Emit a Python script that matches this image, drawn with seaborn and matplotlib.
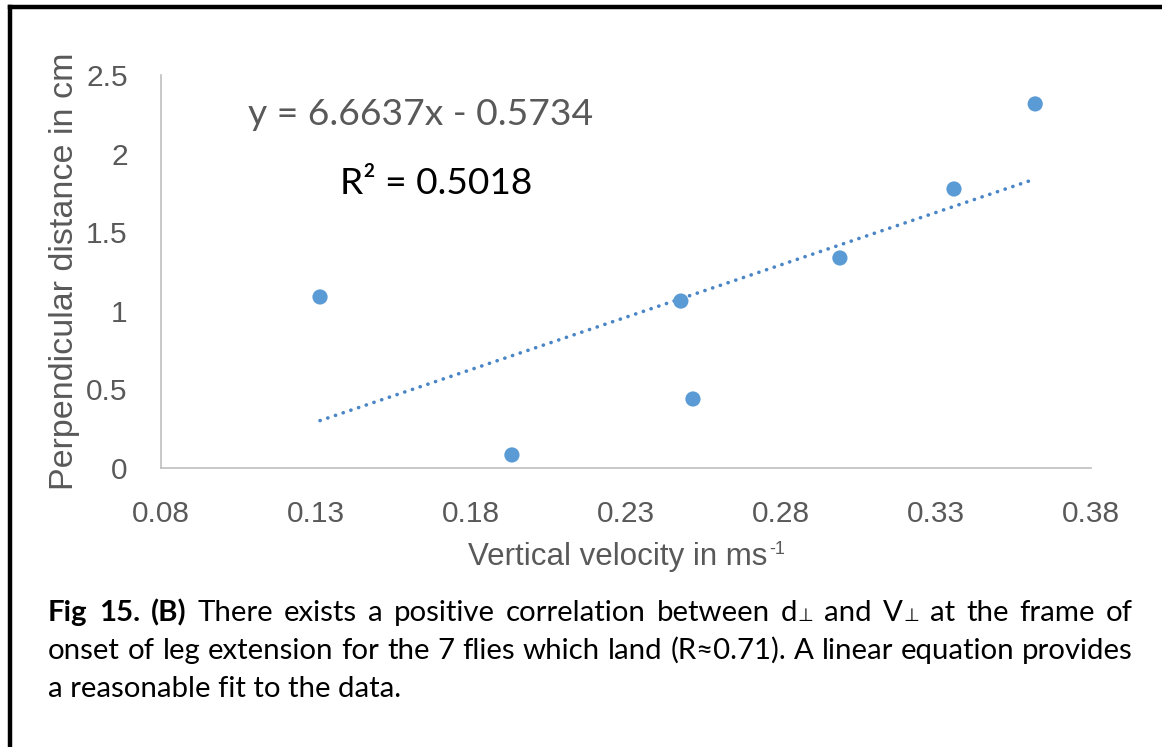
import numpy as np
import pandas as pd
import seaborn as sns
import matplotlib
matplotlib.use("Agg")
import matplotlib.pyplot as plt
from matplotlib.transforms import IdentityTransform
from matplotlib.lines import Line2D

# ---------------- data ----------------
velocity = [0.1313, 0.1932, 0.2477, 0.2516, 0.2990, 0.3358, 0.3620]
distance = [1.088, 0.083, 1.062, 0.439, 1.336, 1.775, 2.316]
slope = 6.6637
intercept = -0.5734
x_ticks = [0.08, 0.13, 0.18, 0.23, 0.28, 0.33, 0.38]
x_tick_labels = ["0.08", "0.13", "0.18", "0.23", "0.28", "0.33", "0.38"]
y_ticks = [0, 0.5, 1, 1.5, 2, 2.5]
y_tick_labels = ["0", "0.5", "1", "1.5", "2", "2.5"]
eq_text = "y = 6.6637x - 0.5734"
r2_text = "R² = 0.5018"
x_label = "Vertical velocity in ms"
x_label_sup = "-1"
y_label = "Perpendicular distance in cm"
caption_line1 = ["**Fig", "**15.", "**(B)", "There", "exists", "a", "positive", "correlation",
                 "between", "d_⊥", "and", "V_⊥", "at", "the", "frame", "of"]
caption_line2 = "onset of leg extension for the 7 flies which land (R≈0.71). A linear equation provides"
caption_line3 = "a reasonable fit to the data."

# ---------------- style ----------------
sns.set_theme(style="white")
plt.rcParams["font.family"] = ["Liberation Sans", "DejaVu Sans"]

W, H = 1162, 747
fig = plt.figure(figsize=(W / 100, H / 100), dpi=100)
fig.patch.set_facecolor("white")

ax_left, ax_right, ax_top, ax_bottom = 161, 1091, 75, 468
ax = fig.add_axes([ax_left / W, 1 - ax_bottom / H, (ax_right - ax_left) / W, (ax_bottom - ax_top) / H])

blue = "#5B9BD5"
grey_txt = "#595959"
axis_col = "#BFBFBF"

df = pd.DataFrame({"v": velocity, "d": distance})
sns.scatterplot(data=df, x="v", y="d", ax=ax, s=120, color=blue, edgecolor="none", zorder=3)

# trendline over the data range
xs = np.array([min(velocity), max(velocity)])
ax.plot(xs, slope * xs + intercept, color="#4A86C5", lw=2.6,
        linestyle=(0, (0.05, 2.2)), dash_capstyle="round", zorder=2)

ax.set_xlim(0.08, 0.38)
ax.set_ylim(0, 2.5)
ax.set_xticks(x_ticks)
ax.set_xticklabels(x_tick_labels)
ax.set_yticks(y_ticks)
ax.set_yticklabels(y_tick_labels)
ax.tick_params(axis="both", length=0, labelsize=21.5, labelcolor=grey_txt)
ax.tick_params(axis="x", pad=23)
ax.tick_params(axis="y", pad=24)
for side in ["top", "right"]:
    ax.spines[side].set_visible(False)
for side in ["left", "bottom"]:
    ax.spines[side].set_color(axis_col)
    ax.spines[side].set_linewidth(1.2)
ax.grid(False)
ax.set_facecolor("white")
ax.set_xlabel(x_label, fontsize=22.5, color=grey_txt, labelpad=10)
ax.set_ylabel(y_label, fontsize=24.5, color=grey_txt, labelpad=4)

fig.canvas.draw()
renderer = fig.canvas.get_renderer()
ident = IdentityTransform()

# superscript for the x label, keep the whole label centred on the axis
sup = fig.text(0, 0, x_label_sup, transform=ident, fontsize=13, color=grey_txt,
               ha="left", va="top")
sup_w = sup.get_window_extent(renderer).width
ax.xaxis.label.set_x(0.5 - (sup_w / 2) / (ax_right - ax_left))
fig.canvas.draw()
lb = ax.xaxis.label.get_window_extent(renderer)
sup.set_position((lb.x1 + 1, lb.y1 + 1))

cap_fam = ["Lato", "DejaVu Sans"]


def fit_text(x, y_top, s, width, **kw):
    t = fig.text(x, H - y_top, s, transform=ident, ha="left", va="baseline", **kw)
    fs = t.get_fontsize()
    w = t.get_window_extent(renderer).width
    t.set_fontsize(fs * width / w)
    return t


fit_text(248, 125, eq_text, 344, fontsize=30, color=grey_txt, family=cap_fam)
fit_text(340, 194, r2_text, 192, fontsize=30, color="black", family=cap_fam)

# caption
cap_fs = 20.0
x0, x1 = 48, 1133

probe = fig.text(0, 0, caption_line2, transform=ident, fontsize=cap_fs, family=cap_fam)
pw = probe.get_window_extent(renderer).width
probe.remove()
cap_fs = cap_fs * (x1 - x0 - 4) / pw


def make_word(w, y_base):
    """Return list of text pieces for a word (bold with '**', small sub with '_')."""
    pieces = []
    if w.startswith("**"):
        pieces.append((w[2:], "bold", cap_fs))
    elif "_" in w:
        a, b = w.split("_")
        pieces.append((a, "normal", cap_fs))
        pieces.append((b, "normal", cap_fs * 0.62))
    else:
        pieces.append((w, "normal", cap_fs))
    ts = []
    for s, wt, fs in pieces:
        t = fig.text(0, H - y_base, s, transform=ident, ha="left", va="baseline",
                     fontsize=fs, fontweight=wt, family=cap_fam, color="black")
        ts.append(t)
    widths = [t.get_window_extent(renderer).width for t in ts]
    return ts, widths


def justify(words, y_base):
    items = [make_word(w, y_base) for w in words]
    total = sum(sum(ws) for _, ws in items)
    gap = (x1 - x0 - total) / (len(items) - 1)
    x = x0
    for ts, ws in items:
        for t, w in zip(ts, ws):
            t.set_x(x)
            x += w
        x += gap


justify(caption_line1, 621)
justify(caption_line2.split(" "), 659)
fig.text(x0, H - 697, caption_line3, transform=ident, ha="left", va="baseline",
         fontsize=cap_fs, family=cap_fam, color="black")

# frame
fig.add_artist(Line2D([10, 10], [H - 7, -5], transform=ident, color="black", lw=3.2, solid_capstyle="projecting"))
fig.add_artist(Line2D([10, W + 5], [H - 7, H - 7], transform=ident, color="black", lw=3.2, solid_capstyle="projecting"))

fig.savefig("out.png", dpi=100, facecolor="white")
